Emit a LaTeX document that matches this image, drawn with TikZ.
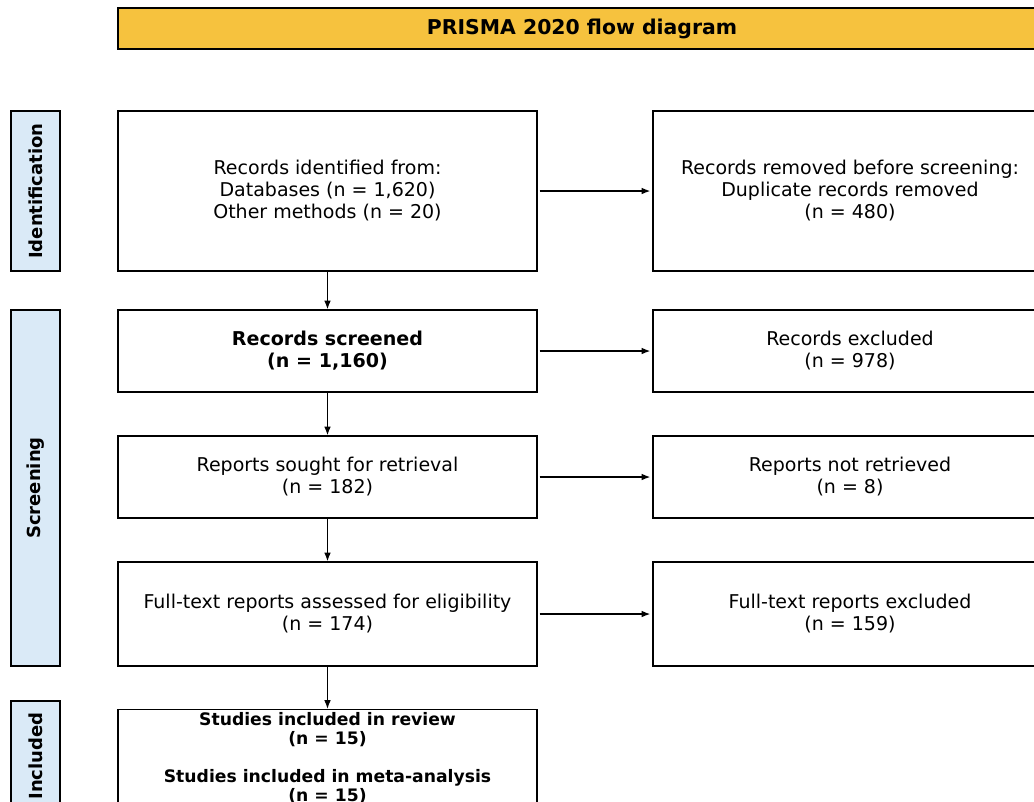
\documentclass[tikz,border=0pt]{standalone}
\usepackage{fontspec}
\setmainfont{DejaVu Sans}
\usetikzlibrary{arrows.meta}
\definecolor{titlegold}{HTML}{F6C23E}
\definecolor{stageblue}{HTML}{DAEAF7}
\tikzset{
  flowbox/.style={draw, line width=1pt, fill=white, align=center, inner sep=2pt,
    font=\fontsize{14.25}{16.5}\selectfont},
  stagebox/.style={draw, line width=0.8pt, fill=stageblue, minimum height=49*0.75pt,
    rotate=90, font=\bfseries\fontsize{13.5}{15}\selectfont},
  flowarrow/.style={-{Latex[length=6.5pt,width=5pt]}, line width=1pt}
}
\begin{document}
\begin{tikzpicture}[x=0.75pt,y=-0.75pt]
\useasboundingbox (0,0) rectangle (1034,801);
\clip (0,0) rectangle (1034,801);
% title
\node[draw, line width=1pt, fill=titlegold, minimum width=928*0.75pt, minimum height=41*0.75pt,
  font=\bfseries\fontsize{15.3}{17}\selectfont] (title) at (582,28.5) {PRISMA 2020 flow diagram};
% stages
\node[stagebox, minimum width=160*0.75pt] (ident) at (35.5,191) {Identification};
\node[stagebox, minimum width=356*0.75pt] (screen) at (35.5,488) {Screening};
\node[stagebox, minimum width=110*0.75pt] (incl) at (35.5,756) {Included};
% main column
\node[flowbox, minimum width=419*0.75pt, minimum height=160*0.75pt] (identified) at (327.5,191)
  {Records identified from:\\Databases (n = 1,620)\\Other methods (n = 20)};
\node[flowbox, minimum width=419*0.75pt, minimum height=82*0.75pt, font=\bfseries\fontsize{14.3}{16.5}\selectfont] (screened) at (327.5,351)
  {Records screened\\(n = 1,160)};
\node[flowbox, minimum width=419*0.75pt, minimum height=82*0.75pt] (sought) at (327.5,477)
  {Reports sought for retrieval\\(n = 182)};
\node[flowbox, minimum width=419*0.75pt, minimum height=104*0.75pt] (assessed) at (327.5,614)
  {Full-text reports assessed for eligibility\\(n = 174)};
\node[flowbox, minimum width=419*0.75pt, minimum height=96*0.75pt, font=\bfseries\fontsize{12.9}{14.3}\selectfont] (included) at (327.5,758)
  {Studies included in review\\(n = 15)\\[14.3pt]Studies included in meta-analysis\\(n = 15)};
% side column
\node[flowbox, minimum width=394*0.75pt, minimum height=160*0.75pt] (duplicates) at (850,191)
  {Records removed before screening:\\Duplicate records removed\\(n = 480)};
\node[flowbox, minimum width=394*0.75pt, minimum height=82*0.75pt] (excluded) at (850,351)
  {Records excluded\\(n = 978)};
\node[flowbox, minimum width=394*0.75pt, minimum height=82*0.75pt] (notretr) at (850,477)
  {Reports not retrieved\\(n = 8)};
\node[flowbox, minimum width=394*0.75pt, minimum height=104*0.75pt] (ftexcl) at (850,614)
  {Full-text reports excluded\\(n = 159)};
% arrows
\draw[flowarrow] (identified) -- (screened);
\draw[flowarrow] (screened) -- (sought);
\draw[flowarrow] (sought) -- (assessed);
\draw[flowarrow] (assessed) -- (included);
\draw[flowarrow, shorten <=1.5pt, shorten >=1.5pt] (identified) -- (duplicates);
\draw[flowarrow, shorten <=1.5pt, shorten >=1.5pt] (screened) -- (excluded);
\draw[flowarrow, shorten <=1.5pt, shorten >=1.5pt] (sought) -- (notretr);
\draw[flowarrow, shorten <=1.5pt, shorten >=1.5pt] (assessed) -- (ftexcl);
\end{tikzpicture}
\end{document}
